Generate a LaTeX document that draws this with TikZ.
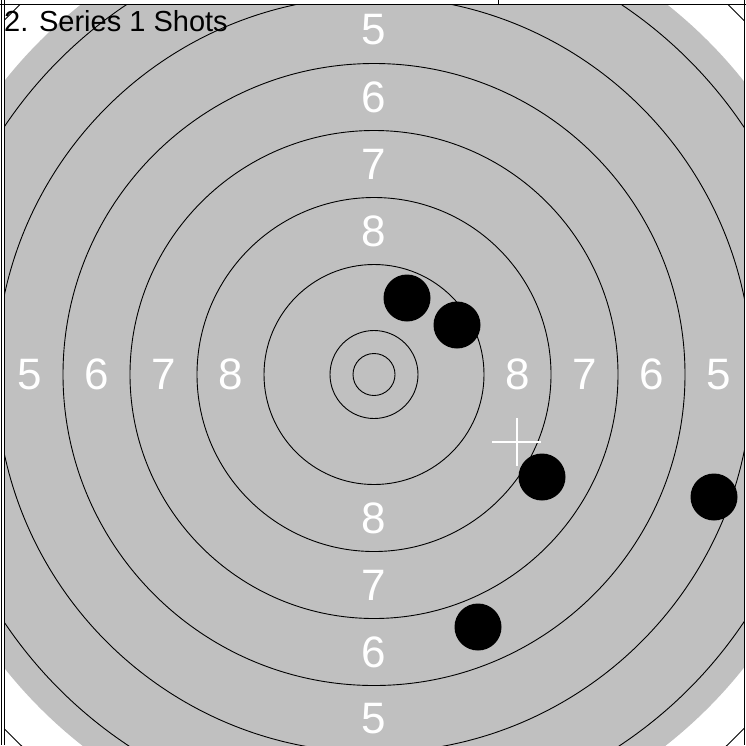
\documentclass[tikz,border=0pt]{standalone}
\usepackage{fontspec}
\setmainfont{Liberation Sans}
\definecolor{targetgray}{RGB}{192,192,192}
\begin{document}
\begin{tikzpicture}[x=1pt,y=-1pt,
  ring/.style={draw=black,line width=0.9pt},
  score/.style={text=white,font=\fontsize{44}{44}\selectfont,inner sep=0pt},
  shot/.style={circle,fill=black,minimum size=47pt,inner sep=0pt},
  frameline/.style={draw=black,line width=1pt},
  crossline/.style={draw=white,line width=2pt},
  titletext/.style={font=\fontsize{29}{29}\selectfont,text=black,inner sep=0pt,anchor=base west}]
\useasboundingbox (0,0) rectangle (746,745);
\fill[white] (0,0) rectangle (746,745);
\coordinate (c) at (374,374.5);
\begin{scope}
  \clip (5,5) rectangle (744,745);
  \fill[targetgray] (c) circle[radius=472pt];
  \foreach \r in {21,44,110,177,244,311,378,445,512}
    \draw[ring] (c) circle[radius=\r pt];
  % score labels
  \node[score] (l8) at ([xshift=-143.5pt]c) {8};
  \node[score] (l7) at ([xshift=-210.5pt]c) {7};
  \node[score] (l6) at ([xshift=-277.5pt]c) {6};
  \node[score] (l5) at ([xshift=-344.5pt]c) {5};
  \node[score] (r8) at ([xshift=143.5pt]c) {8};
  \node[score] (r7) at ([xshift=210.5pt]c) {7};
  \node[score] (r6) at ([xshift=277.5pt]c) {6};
  \node[score] (r5) at ([xshift=344.5pt]c) {5};
  \node[score] (t8) at ([yshift=143.5pt]c) {8};
  \node[score] (t7) at ([yshift=210.5pt]c) {7};
  \node[score] (t6) at ([yshift=277.5pt]c) {6};
  \node[score] (t5) at ([yshift=344.5pt]c) {5};
  \node[score] (b8) at ([yshift=-143.5pt]c) {8};
  \node[score] (b7) at ([yshift=-210.5pt]c) {7};
  \node[score] (b6) at ([yshift=-277.5pt]c) {6};
  \node[score] (b5) at ([yshift=-344.5pt]c) {5};
  % aim cross
  \coordinate (cr) at (516.5,442);
  \draw[crossline] ([xshift=-24.5pt]cr) -- ([xshift=24.5pt]cr);
  \draw[crossline] ([yshift=-24pt]cr) -- ([yshift=24pt]cr);
  % shots
  \node[shot] (s1) at (407,298) {};
  \node[shot] (s2) at (457,325) {};
  \node[shot] (s3) at (542,477) {};
  \node[shot] (s4) at (714,497) {};
  \node[shot] (s5) at (478,627) {};
\end{scope}
% frame lines
\draw[frameline] (0,4) -- (746,4);
\draw[frameline] (1,0) -- (1,745);
\draw[frameline] (4.5,0) -- (4.5,745);
\draw[frameline] (744.5,0) -- (744.5,745);
\draw[frameline] (498,0) -- (498,4);
\node[titletext] (title) at (4,31) {2. Series 1 Shots};
\end{tikzpicture}
\end{document}
